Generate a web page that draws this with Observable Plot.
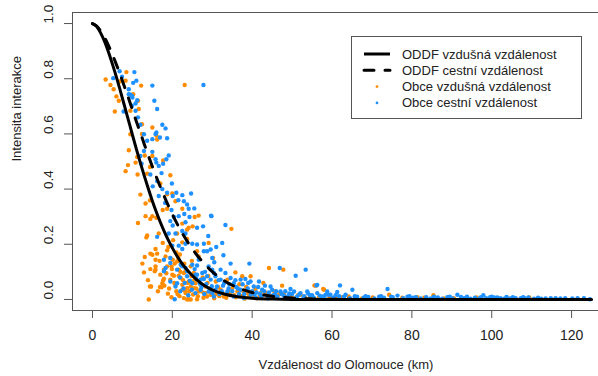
<!DOCTYPE html>
<html>
<head>
<meta charset="utf-8">
<script src="https://cdn.jsdelivr.net/npm/d3@7"></script>
<script src="https://cdn.jsdelivr.net/npm/@observablehq/plot@0.6"></script>
<style>
  body { margin: 0; background: white; }
  #wrap { position: relative; width: 598px; height: 376px; overflow: hidden; background: white; }
  #legend { position: absolute; left: 351px; top: 36px; }
</style>
</head>
<body>
<div id="wrap"></div>
<script>
// ---- data ----
const xTicks = [0, 20, 40, 60, 80, 100, 120];
const yTicks = [0, 0.2, 0.4, 0.6, 0.8, 1.0];
const xLabel = "Vzdálenost do Olomouce (km)";
const yLabel = "Intensita interakce";
const seriesNames = ["ODDF vzdušná vzdálenost", "ODDF cestní vzdálenost", "Obce vzdušná vzdálenost", "Obce cestní vzdálenost"];

// ODDF curves
const curveX   = [0, 1, 2, 3, 4, 5, 6, 7, 8, 9, 10, 11, 12, 13, 14, 15, 16, 17, 18, 19, 20, 22, 24, 26, 28, 30, 33, 36, 40, 45, 50, 55, 60, 70, 80, 100, 125];
const solidY   = [1, 0.990, 0.967, 0.936, 0.897, 0.853, 0.806, 0.755, 0.703, 0.650, 0.597, 0.545, 0.495, 0.447, 0.401, 0.357, 0.317, 0.280, 0.246, 0.215, 0.187, 0.139, 0.102, 0.073, 0.051, 0.035, 0.020, 0.0105, 0.0043, 0.0013, 0.0003, 0.0001, 0, 0, 0, 0, 0];
const dashedY  = [1, 0.992, 0.974, 0.950, 0.921, 0.888, 0.851, 0.813, 0.772, 0.731, 0.688, 0.645, 0.604, 0.562, 0.521, 0.482, 0.444, 0.408, 0.373, 0.340, 0.309, 0.253, 0.205, 0.164, 0.130, 0.101, 0.068, 0.045, 0.025, 0.0114, 0.0049, 0.002, 0.0008, 0.0001, 0, 0, 0];

// Obce – vzdušná vzdálenost (orange)
const orangeX = [3.3, 4.5, 5.3, 6.0, 5.6, 8.5, 6.8, 8.3, 6.6, 12.2, 10.2, 11.4, 11.6, 9.5, 12.4, 9.5, 15.0, 12.4, 16.0, 16.2, 9.1, 11.2, 13.1, 15.0, 17.7, 10.8, 8.9, 8.3, 11.3, 14.4, 13.7, 23.1,
  20.0, 18.7, 20.8, 14.4, 13.3, 22.5, 17.6, 18.7, 13.3, 15.0, 14.5, 16.0, 25.6, 26.6, 11.4, 22.5, 23.7, 24.1, 25.1, 21.2, 16.6, 13.7,
  13.5, 15.8, 14.5, 16.2, 13.1, 15.8, 18.7, 18.3, 17.6, 14.5, 12.9, 15.8, 17.9, 17.7, 14.7, 17.3, 14.1, 20.1, 19.8, 20.6, 20.4, 19.5, 21.6, 22.5, 23.3, 23.7, 24.6, 25.8, 27.1, 26.6, 28.3, 24.1, 26.2, 23.3, 24.6, 26.2, 26.6, 23.7, 22.5, 20.2, 21.9, 25.4, 28.3, 29.6,
  14.4, 15.0, 15.6, 16.9, 17.5, 17.9, 15.8, 18.7, 20.0, 20.8, 22.1, 22.5, 23.3, 23.7, 24.6, 24.1, 25.4, 21.6, 22.9, 21.2, 19.5,
  34.8, 29.1, 30.2, 35.8, 37.5, 39.6, 44.2, 47.8, 47.5, 55.9, 58.0, 27.9, 28.7, 32.1, 32.9, 38.8, 42.1, 43.8, 52.1, 54.6, 36.3, 27.5,
  55.6, 57.8, 74.3, 85.4, 64.2, 62.6, 81.4, 96.2, 103.8, 109.4, 93.2,
  30.5, 31.8, 33.5, 34.5, 35.9, 37.2, 38.1, 40.3, 41.2, 44.8, 45.9, 46.8, 48.5, 49.8, 50.9, 53.2, 56.7, 59.4, 61.0, 65.8, 67.5, 70.2, 72.8, 77.6, 79.9, 83.1, 88.0, 90.5,
  29.0, 30.9, 31.5, 33.8, 35.0, 36.8, 38.5, 40.8, 42.8, 45.5,
  18.9, 19.8, 21.0, 21.8, 22.9, 25.2, 27.8,
  16.4, 17.0, 18.0, 18.5, 19.2, 19.9, 20.5, 21.3, 21.5, 22.0, 22.7, 23.0, 23.9, 24.3, 24.8, 25.5, 26.0, 26.4, 27.3, 27.6, 28.8, 29.4, 30.0, 31.0, 32.5, 34.0, 35.5, 37.8, 39.2, 41.8, 43.3, 46.2, 48.0, 51.5, 13.9, 12.5, 16.8, 19.0, 21.0, 24.9, 12.0, 17.0, 19.5];
const orangeY = [0.797, 0.777, 0.762, 0.736, 0.681, 0.824, 0.790, 0.793, 0.720, 0.775, 0.744, 0.720, 0.690, 0.684, 0.635, 0.599, 0.623, 0.600, 0.594, 0.580, 0.541, 0.516, 0.522, 0.520, 0.504, 0.496, 0.487, 0.465, 0.453, 0.480, 0.456, 0.777,
  0.384, 0.381, 0.356, 0.359, 0.348, 0.329, 0.324, 0.329, 0.302, 0.302, 0.292, 0.296, 0.299, 0.304, 0.277, 0.275, 0.253, 0.260, 0.265, 0.239, 0.239, 0.232,
  0.225, 0.183, 0.166, 0.166, 0.154, 0.144, 0.178, 0.156, 0.205, 0.110, 0.098, 0.108, 0.108, 0.069, 0.047, 0.044, 0.000, 0.144, 0.120, 0.130, 0.086, 0.072, 0.086, 0.053, 0.029, 0.041, 0.047, 0.059, 0.053, 0.029, 0.023, 0.001, 0.001, 0.102, 0.120, 0.175, 0.156, 0.219, 0.207, 0.215, 0.163, 0.096, 0.047, 0.017,
  0.047, 0.162, 0.102, 0.045, 0.059, 0.075, 0.120, 0.120, 0.090, 0.053, 0.078, 0.035, 0.023, 0.000, 0.000, 0.065, 0.041, 0.108, 0.096, 0.138, 0.150,
  0.256, 0.205, 0.150, 0.098, 0.084, 0.084, 0.114, 0.108, 0.050, 0.050, 0.035, 0.023, 0.011, 0.035, 0.011, 0.023, 0.023, 0.005, 0.017, 0.011, 0.029, 0.053,
  0.051, 0.038, 0.017, 0.015, 0.011, 0.008, 0.008, 0.007, 0.007, 0.007, 0.003,
  0.004, 0.012, 0.006, 0.018, 0.008, 0.013, 0.003, 0.009, 0.004, 0.012, 0.006, 0.020, 0.007, 0.012, 0.004, 0.008, 0.006, 0.009, 0.004, 0.006, 0.004, 0.007, 0.005, 0.006, 0.004, 0.006, 0.004, 0.005,
  0.085, 0.065, 0.044, 0.072, 0.040, 0.055, 0.045, 0.038, 0.060, 0.030,
  0.021, 0.008, 0.030, 0.012, 0.005, 0.018, 0.006,
  0.030, 0.090, 0.050, 0.095, 0.040, 0.110, 0.060, 0.020, 0.150, 0.100, 0.070, 0.130, 0.060, 0.030, 0.085, 0.070, 0.040, 0.012, 0.030, 0.080, 0.060, 0.040, 0.030, 0.020, 0.025, 0.030, 0.015, 0.030, 0.012, 0.010, 0.025, 0.012, 0.020, 0.015, 0.070, 0.130, 0.140, 0.190, 0.170, 0.140, 0.380, 0.420, 0.450];

// Obce – cestní vzdálenost (blue)
const blueX = [6.8, 10.5, 7.4, 5.2, 11.0, 10.2, 15.0, 9.1, 9.5, 10.0, 11.2, 10.8, 9.9, 15.5, 16.2, 7.8, 10.8, 11.4, 17.5, 18.3, 12.0, 12.9, 13.7, 16.9, 18.7, 15.0, 15.8, 15.0, 19.1, 18.5, 17.7, 16.0, 16.6, 12.3, 12.0, 14.5, 17.3, 15.1, 27.8, 9.1, 9.9, 16.0, 12.9, 15.8, 16.2,
  18.7, 21.0, 22.5, 24.7, 16.6, 20.1, 22.9, 23.7, 24.1, 19.8, 21.6, 20.4, 24.3, 29.8, 23.3, 19.5, 20.1, 27.7, 26.2, 22.5, 20.8, 23.3, 19.1,
  16.2, 17.9, 18.3, 17.9, 19.5, 20.6, 20.8, 22.5, 21.6, 23.3, 25.0, 27.9, 26.2, 27.9, 30.0, 26.6, 26.2, 22.5, 21.2, 23.3, 23.7, 25.8, 27.5, 27.9, 28.7, 29.6, 30.0, 29.1, 19.5, 25.0, 27.1, 29.1, 30.0, 30.4, 25.8, 20.0,
  19.5, 21.2, 22.1, 23.7, 25.0, 26.2,
  33.3, 32.5, 28.7, 29.6, 34.6, 39.3, 46.9, 53.4, 50.9, 56.3, 59.2, 32.1, 33.3, 30.8, 32.1, 34.6, 35.4, 37.1, 38.3, 39.6, 41.7, 40.4, 42.5, 44.6, 45.0, 47.1, 49.6, 50.5, 52.1, 53.8, 56.3, 58.8, 37.1, 33.8, 31.2, 35.4, 39.6, 43.8, 47.9, 37.9, 46.3, 27.1, 30.4, 29.7,
  56.1, 62.0, 65.1, 61.3, 73.9, 58.4, 59.6, 63.4, 76.4, 91.4, 97.9, 99.6, 107.3, 116.0, 118.4, 123.1, 124.6, 112.4, 110.6, 100.6, 101.4, 106.0, 103.1, 94.7, 93.1,
  40.9, 42.0, 44.0, 45.7, 48.8, 49.3, 51.2, 52.8, 54.5, 55.4, 57.5, 60.3, 61.8, 64.5, 66.3, 67.9, 69.1, 70.6, 71.8, 73.0, 75.2, 77.8, 78.9, 80.3, 82.2, 83.6, 84.7, 86.5, 87.6, 88.9, 90.2, 92.3, 95.8, 96.9, 98.6, 102.2, 104.6, 105.3, 108.4, 109.2, 113.5, 120.2,
  31.8, 32.7, 34.1, 36.0, 36.7, 38.9, 41.1, 43.2,
  21.9, 22.8, 24.4, 25.6, 26.9, 28.2,
  22.0, 23.1, 24.0, 24.9, 26.0, 27.3, 28.0, 28.5, 29.9, 30.8, 31.6, 32.4, 33.0, 34.3, 35.0, 35.8, 36.4, 37.6, 38.0, 39.0, 40.0, 40.6, 41.5, 42.3, 43.0, 44.2, 45.3, 46.0, 47.4, 48.3, 49.0, 50.0, 51.8, 53.0, 54.0, 55.0, 56.9, 58.0, 60.9, 63.0, 65.7, 68.4, 72.3, 74.8, 79.4, 81.0, 85.5, 89.5, 93.8, 97.3, 100.0, 103.7, 107.9, 111.6, 114.8, 117.2, 121.5,
  17.5, 19.9, 21.5, 18.2, 23.0, 25.5, 31.0, 29.0, 32.8, 30.5];
const blueY = [0.827, 0.824, 0.807, 0.802, 0.793, 0.785, 0.775, 0.762, 0.742, 0.732, 0.722, 0.710, 0.702, 0.720, 0.690, 0.681, 0.684, 0.660, 0.633, 0.620, 0.633, 0.599, 0.575, 0.587, 0.584, 0.581, 0.600, 0.535, 0.522, 0.508, 0.492, 0.496, 0.484, 0.492, 0.520, 0.453, 0.458, 0.410, 0.777, 0.744, 0.738, 0.605, 0.538, 0.508, 0.429,
  0.387, 0.387, 0.378, 0.384, 0.375, 0.375, 0.356, 0.344, 0.329, 0.324, 0.302, 0.299, 0.299, 0.302, 0.280, 0.284, 0.268, 0.265, 0.260, 0.248, 0.239, 0.239, 0.239,
  0.227, 0.144, 0.114, 0.102, 0.150, 0.001, 0.047, 0.183, 0.195, 0.202, 0.202, 0.202, 0.199, 0.175, 0.150, 0.144, 0.123, 0.120, 0.108, 0.114, 0.084, 0.090, 0.096, 0.074, 0.084, 0.072, 0.108, 0.120, 0.065, 0.059, 0.035, 0.029, 0.023, 0.011, 0.023, 0.195,
  0.132, 0.059, 0.126, 0.102, 0.126, 0.090,
  0.270, 0.205, 0.175, 0.181, 0.130, 0.130, 0.114, 0.108, 0.086, 0.053, 0.017, 0.108, 0.096, 0.084, 0.072, 0.078, 0.059, 0.072, 0.074, 0.065, 0.065, 0.047, 0.035, 0.047, 0.035, 0.029, 0.038, 0.029, 0.023, 0.029, 0.023, 0.029, 0.035, 0.029, 0.047, 0.011, 0.017, 0.014, 0.014, 0.005, 0.011, 0.072, 0.096, 0.304,
  0.051, 0.051, 0.035, 0.027, 0.038, 0.017, 0.017, 0.017, 0.014, 0.017, 0.015, 0.008, 0.005, 0.005, 0.005, 0.005, 0.001, 0.003, 0.003, 0.007, 0.007, 0.005, 0.003, 0.003, 0.005,
  0.006, 0.020, 0.004, 0.018, 0.006, 0.022, 0.010, 0.004, 0.015, 0.006, 0.010, 0.006, 0.012, 0.005, 0.010, 0.006, 0.009, 0.004, 0.010, 0.006, 0.008, 0.005, 0.010, 0.006, 0.004, 0.008, 0.004, 0.007, 0.003, 0.008, 0.004, 0.009, 0.006, 0.004, 0.005, 0.005, 0.004, 0.008, 0.004, 0.007, 0.004, 0.004,
  0.020, 0.050, 0.040, 0.045, 0.020, 0.040, 0.025, 0.050,
  0.080, 0.040, 0.068, 0.110, 0.058, 0.100,
  0.030, 0.060, 0.015, 0.035, 0.075, 0.045, 0.020, 0.055, 0.048, 0.035, 0.070, 0.030, 0.060, 0.055, 0.030, 0.070, 0.040, 0.055, 0.020, 0.060, 0.030, 0.018, 0.045, 0.012, 0.030, 0.025, 0.015, 0.030, 0.020, 0.030, 0.012, 0.020, 0.018, 0.012, 0.022, 0.015, 0.014, 0.012, 0.015, 0.010, 0.012, 0.012, 0.012, 0.010, 0.012, 0.008, 0.010, 0.010, 0.010, 0.008, 0.010, 0.009, 0.008, 0.006, 0.005, 0.004, 0.005,
  0.400, 0.420, 0.360, 0.350, 0.310, 0.330, 0.190, 0.230, 0.160, 0.135];

const orangeColor = "#FF8C00";
const blueColor = "#1E90FF";
const font = "'Liberation Sans', Arial, Helvetica, sans-serif";

// ---- build tables ----
const curves = curveX.map((x, i) => ({x, solid: solidY[i], dashed: dashedY[i]}));
const orange = orangeX.map((x, i) => ({x, y: orangeY[i]}));
const blue = blueX.map((x, i) => ({x, y: blueY[i]}));

const chart = Plot.plot({
  width: 598,
  height: 376,
  marginLeft: 72,
  marginRight: -13,
  marginTop: 12,
  marginBottom: 66,
  style: {fontFamily: font, fontSize: "13px", background: "white", color: "#222", overflow: "hidden"},
  x: {domain: [-5, 130]},
  y: {domain: [-0.04, 1.04]},
  marks: [
    Plot.frame({stroke: "#555", strokeWidth: 1}),
    Plot.dot(orange, {x: "x", y: "y", r: 2.2, fill: orangeColor, stroke: null}),
    Plot.dot(blue, {x: "x", y: "y", r: 2.2, fill: blueColor, stroke: null}),
    Plot.line(curves, {x: "x", y: "solid", stroke: "black", strokeWidth: 3, curve: "monotone-x"}),
    Plot.line(curves, {x: "x", y: "dashed", stroke: "black", strokeWidth: 3, curve: "monotone-x", strokeDasharray: "10,11", strokeLinecap: "round"}),
    Plot.axisX({ticks: xTicks, tickSize: 8, tickPadding: 12, fontSize: 14, tickFormat: d => String(d), label: null, stroke: "#555", fill: "#222"}),
    Plot.axisY({ticks: yTicks, tickSize: 8, tickFormat: () => "", label: null, stroke: "#555"}),
    Plot.text(yTicks, {y: d => d, frameAnchor: "left", dx: -24, rotate: -90, text: d => d.toFixed(1), fontSize: 13.5, fill: "#222"}),
    Plot.text([xLabel], {frameAnchor: "bottom", dx: 4, dy: 58, text: d => d, fontSize: 13, fill: "#222"}),
    Plot.text([yLabel], {frameAnchor: "left", dx: -56, rotate: -90, text: d => d, fontSize: 13, fill: "#222"})
  ]
});

const wrap = document.getElementById("wrap");
wrap.appendChild(chart);

// ---- legend ----
const rowH = 16.3;
const lg = d3.select(wrap).append("svg")
  .attr("id", "legend")
  .attr("width", 232).attr("height", 84)
  .style("font-family", font).style("font-size", "13px");
lg.append("rect").attr("x", 0.5).attr("y", 0.5).attr("width", 230).attr("height", 82)
  .attr("fill", "white").attr("stroke", "#555");
seriesNames.forEach((name, i) => {
  const cy = 18 + i * rowH;
  if (i < 2) {
    lg.append("line").attr("x1", 13).attr("x2", 39).attr("y1", cy).attr("y2", cy)
      .attr("stroke", "black").attr("stroke-width", 3)
      .attr("stroke-dasharray", i === 1 ? "10,11" : null)
      .attr("stroke-linecap", i === 1 ? "round" : "butt");
  } else {
    lg.append("circle").attr("cx", 26).attr("cy", cy).attr("r", 1.4)
      .attr("fill", i === 2 ? orangeColor : blueColor);
  }
  lg.append("text").attr("x", 51).attr("y", cy).attr("dy", "0.35em")
    .attr("fill", "#222").text(name);
});
</script>
</body>
</html>
